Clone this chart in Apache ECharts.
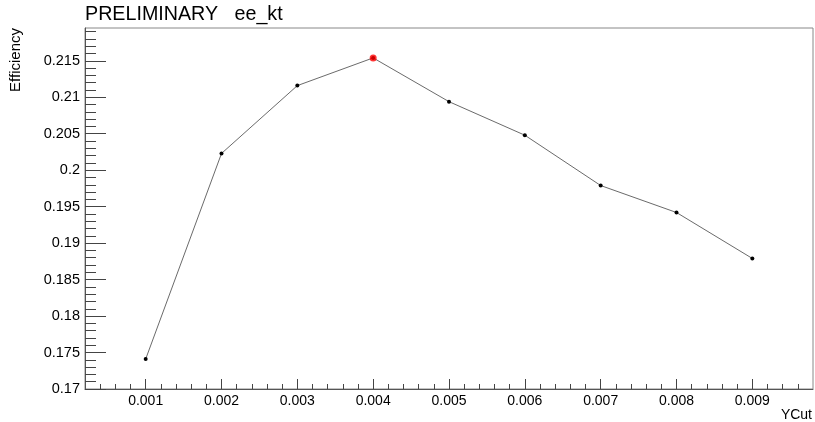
<!DOCTYPE html>
<html>
<head>
<meta charset="utf-8">
<script src="https://cdn.jsdelivr.net/npm/echarts@6/dist/echarts.min.js"></script>
<style>html,body{margin:0;padding:0;background:#fff}#c{width:815px;height:422px}</style>
</head>
<body>
<div id="c"></div>
<script>
var yCut = [0.001, 0.002, 0.003, 0.004, 0.005, 0.006, 0.007, 0.008, 0.009];
var efficiency = [0.1741, 0.2023, 0.2116, 0.2154, 0.2094, 0.2048, 0.1979, 0.1942, 0.1879];
var bestIndex = 3;
var xMajorTicks = [0.001, 0.002, 0.003, 0.004, 0.005, 0.006, 0.007, 0.008, 0.009];
var xMinorTicks = [0.0004, 0.0006, 0.0008, 0.0012, 0.0014, 0.0016, 0.0018, 0.0022, 0.0024, 0.0026, 0.0028,
  0.0032, 0.0034, 0.0036, 0.0038, 0.0042, 0.0044, 0.0046, 0.0048, 0.0052, 0.0054, 0.0056, 0.0058,
  0.0062, 0.0064, 0.0066, 0.0068, 0.0072, 0.0074, 0.0076, 0.0078, 0.0082, 0.0084, 0.0086, 0.0088,
  0.0092, 0.0094, 0.0096];
var yMajorTicks = [0.17, 0.175, 0.18, 0.185, 0.19, 0.195, 0.2, 0.205, 0.21, 0.215];
var yMinorTicks = [0.171, 0.172, 0.173, 0.174, 0.176, 0.177, 0.178, 0.179, 0.181, 0.182, 0.183, 0.184,
  0.186, 0.187, 0.188, 0.189, 0.191, 0.192, 0.193, 0.194, 0.196, 0.197, 0.198, 0.199,
  0.201, 0.202, 0.203, 0.204, 0.206, 0.207, 0.208, 0.209, 0.211, 0.212, 0.213, 0.214,
  0.216, 0.217, 0.218, 0.219];
var xMin = 0.0002, xMax = 0.0098, yMin = 0.17, yMax = 0.2195;

var FONT = 'Liberation Sans, Arial, Helvetica, sans-serif';
var fmt = function (v) { return String(parseFloat(Number(v).toFixed(4))); };

var chart = echarts.init(document.getElementById('c'), null, {renderer: 'canvas'});
var pts = yCut.map(function (x, i) { return [x, efficiency[i]]; });

chart.setOption({
  animation: false,
  backgroundColor: '#fff',
  grid: {left: 85, right: 2, top: 28, bottom: 33, show: true, borderColor: '#888', borderWidth: 1, containLabel: false},
  xAxis: [{
    type: 'value', min: xMin, max: xMax, gridIndex: 0,
    axisLine: {show: true, onZero: false, lineStyle: {color: '#555', width: 1}},
    axisTick: {show: true, inside: true, length: 10, customValues: xMajorTicks, lineStyle: {color: '#444'}},
    axisLabel: {show: true, customValues: xMajorTicks, formatter: fmt, color: '#000', fontSize: 14, fontFamily: FONT, margin: 5},
    splitLine: {show: false}
  }, {
    type: 'value', min: xMin, max: xMax, gridIndex: 0, position: 'bottom',
    axisLine: {show: false, onZero: false},
    axisTick: {show: true, inside: true, length: 5, customValues: xMinorTicks, lineStyle: {color: '#444'}},
    axisLabel: {show: false},
    splitLine: {show: false}
  }],
  yAxis: [{
    type: 'value', min: yMin, max: yMax, gridIndex: 0,
    axisLine: {show: true, onZero: false, lineStyle: {color: '#555', width: 1}},
    axisTick: {show: true, inside: true, length: 21, customValues: yMajorTicks, lineStyle: {color: '#444'}},
    axisLabel: {show: true, customValues: yMajorTicks, formatter: fmt, color: '#000', fontSize: 14.5, fontFamily: FONT, margin: 5},
    splitLine: {show: false}
  }, {
    type: 'value', min: yMin, max: yMax, gridIndex: 0, position: 'left',
    axisLine: {show: false, onZero: false},
    axisTick: {show: true, inside: true, length: 11, customValues: yMinorTicks, lineStyle: {color: '#444'}},
    axisLabel: {show: false},
    splitLine: {show: false}
  }],
  series: [{
    type: 'line', xAxisIndex: 0, yAxisIndex: 0,
    data: pts,
    symbol: 'circle', symbolSize: 4,
    itemStyle: {color: '#000'},
    lineStyle: {color: '#444', width: 0.8},
    z: 3
  }, {
    type: 'scatter', xAxisIndex: 0, yAxisIndex: 0,
    data: [pts[bestIndex]],
    symbol: 'circle', symbolSize: 7,
    itemStyle: {color: '#ff0000'},
    z: 4
  }],
  graphic: [
    {type: 'text', x: 85, y: 5, style: {text: 'PRELIMINARY   ee_kt', font: '19.7px ' + FONT, fill: '#000', align: 'left', verticalAlign: 'top'}},
    {type: 'text', x: 16, y: 28, rotation: Math.PI / 2, style: {text: 'Efficiency', font: '15px ' + FONT, fill: '#000', align: 'right', verticalAlign: 'middle'}},
    {type: 'text', x: 812, y: 422, style: {text: 'YCut', font: '14px ' + FONT, fill: '#000', align: 'right', verticalAlign: 'bottom'}}
  ]
});
</script>
</body>
</html>
